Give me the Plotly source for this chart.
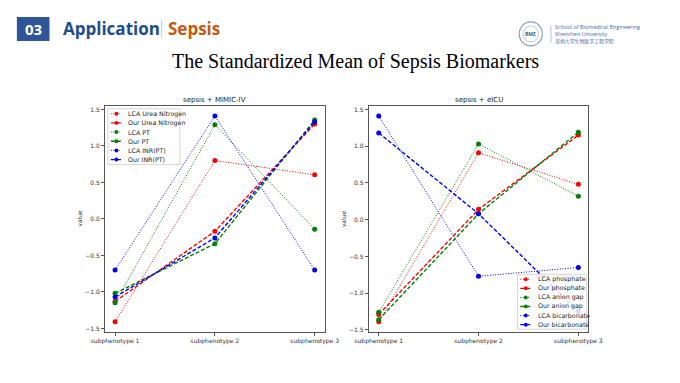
import plotly.graph_objects as go

W, H = 680, 383

categories = ["subphenotype 1", "subphenotype 2", "subphenotype 3"]

# MIMIC-IV panel
mimic_names = ["LCA Urea Nitrogen", "Our Urea Nitrogen", "LCA PT", "Our PT", "LCA INR(PT)", "Our INR(PT)"]
lca_urea = [-1.41, 0.80, 0.605]
our_urea = [-1.13, -0.17, 1.30]
lca_pt = [-1.15, 1.29, -0.14]
our_pt = [-1.02, -0.34, 1.355]
lca_inr = [-0.70, 1.41, -0.70]
our_inr = [-1.07, -0.26, 1.33]

# eICU panel
eicu_names = ["LCA phosphate", "Our phosphate", "LCA anion gap", "Our anion gap", "LCA bicarbonate", "Our bicarbonate"]
lca_phos = [-1.39, 0.91, 0.48]
our_phos = [-1.29, 0.14, 1.15]
lca_anion = [-1.26, 1.03, 0.32]
our_anion = [-1.36, 0.08, 1.19]
lca_bicarb = [1.41, -0.77, -0.65]
our_bicarb = [1.18, 0.08, -1.25]

y_ticks = [-1.5, -1.0, -0.5, 0.0, 0.5, 1.0, 1.5]
y_tick_text = ["\u22121.5", "\u22121.0", "\u22120.5", "0.0", "0.5", "1.0", "1.5"]

colors = ["#ff0000", "#ff0000", "#008000", "#008000", "#0000ff", "#0000ff"]
DOT = "1px,1.6px"
DASH = "4px,2px"
styles = [DOT, DASH, DOT, DASH, DOT, DASH]
widths = [1.0, 1.4, 1.0, 1.4, 1.0, 1.4]

mimic_series = [lca_urea, our_urea, lca_pt, our_pt, lca_inr, our_inr]
eicu_series = [lca_phos, our_phos, lca_anion, our_anion, lca_bicarb, our_bicarb]


def fx(x):
    return x / W


def fy(y):
    return 1 - y / H


FONT = "DejaVu Sans"
fig = go.Figure()

for i, (name, vals) in enumerate(zip(mimic_names, mimic_series)):
    fig.add_trace(go.Scatter(
        x=categories, y=vals, name=name, mode="lines+markers",
        line=dict(color=colors[i], width=widths[i], dash=styles[i]),
        marker=dict(color=colors[i], size=5),
        xaxis="x", yaxis="y", showlegend=False))

for i, (name, vals) in enumerate(zip(eicu_names, eicu_series)):
    fig.add_trace(go.Scatter(
        x=categories, y=vals, name=name, mode="lines+markers",
        line=dict(color=colors[i], width=widths[i], dash=styles[i]),
        marker=dict(color=colors[i], size=5),
        xaxis="x2", yaxis="y2", showlegend=False))


def yrange(series):
    lo = min(min(s) for s in series)
    hi = max(max(s) for s in series)
    pad = 0.05 * (hi - lo)
    return [lo - pad, hi + pad]


ydom = [fy(333), fy(106)]
axis_common = dict(showgrid=False, zeroline=False, showline=True, mirror=True,
                   linecolor="#555555", linewidth=1, ticks="outside", ticklen=3,
                   tickcolor="#555555", tickfont=dict(family=FONT, size=6, color="#333333"))

fig.update_layout(
    width=W, height=H, margin=dict(l=0, r=0, t=0, b=0),
    paper_bgcolor="white", plot_bgcolor="white", showlegend=False,
    xaxis=dict(domain=[fx(95), fx(324)], type="category", range=[-0.1, 2.1],
               anchor="y", **axis_common),
    yaxis=dict(domain=ydom, range=yrange(mimic_series), tickvals=y_ticks,
               ticktext=y_tick_text, anchor="x", **axis_common),
    xaxis2=dict(domain=[fx(370), fx(599)], type="category", range=[-0.1, 2.1],
                anchor="y2", **axis_common),
    yaxis2=dict(domain=ydom, range=yrange(eicu_series), tickvals=y_ticks,
                ticktext=y_tick_text, anchor="x2", **axis_common),
)

shapes = []
annotations = []

# Header
shapes.append(dict(type="rect", xref="paper", yref="paper", x0=fx(3), x1=fx(37),
                   y0=fy(41), y1=fy(17), fillcolor="#2E5597", line=dict(width=0), layer="above"))
annotations.append(dict(text="<b>03</b>", x=fx(20), y=fy(29.5), xref="paper", yref="paper",
                        showarrow=False, font=dict(family="Open Sans", size=15, color="white"),
                        xanchor="center", yanchor="middle"))
annotations.append(dict(text="<b>Application</b>", x=fx(49), y=fy(29), xref="paper", yref="paper",
                        showarrow=False, font=dict(family="Open Sans", size=17, color="#1F4B8F"),
                        xanchor="left", yanchor="middle"))
shapes.append(dict(type="line", xref="paper", yref="paper", x0=fx(154), x1=fx(154),
                   y0=fy(38), y1=fy(20), line=dict(color="#c8c8c8", width=1)))
annotations.append(dict(text="<b>Sepsis</b>", x=fx(159), y=fy(29), xref="paper", yref="paper",
                        showarrow=False, font=dict(family="Open Sans", size=17, color="#C55A11"),
                        xanchor="left", yanchor="middle"))

# Logo
shapes.append(dict(type="circle", xref="paper", yref="paper", x0=fx(527), x1=fx(551),
                   y0=fy(46), y1=fy(22), line=dict(color="#8aa0bd", width=1.2), fillcolor="white"))
shapes.append(dict(type="circle", xref="paper", yref="paper", x0=fx(531), x1=fx(547),
                   y0=fy(42), y1=fy(26), line=dict(color="#a9b9cf", width=0.8)))
annotations.append(dict(text="<b>BME</b>", x=fx(539), y=fy(34), xref="paper", yref="paper",
                        showarrow=False, font=dict(family="Open Sans", size=5, color="#3f5f8f"),
                        xanchor="center", yanchor="middle"))
shapes.append(dict(type="line", xref="paper", yref="paper", x0=fx(560), x1=fx(560),
                   y0=fy(43), y1=fy(26), line=dict(color="#9fb0c8", width=0.8)))
for txt, yy, fam, sz in [("School of Biomedical Engineering", 27.0, "Open Sans", 5.5),
                         ("Shenzhen University", 34.2, "Open Sans", 5.5),
                         ("深圳大学生物医学工程学院", 41.2, "Noto Sans CJK SC", 4.9)]:
    annotations.append(dict(text=txt, x=fx(563), y=fy(yy), xref="paper", yref="paper",
                            showarrow=False, font=dict(family=fam, size=sz, color="#3f6aa6"),
                            xanchor="left", yanchor="middle", borderpad=0))

# Main title
annotations.append(dict(text="The Standardized Mean of Sepsis Biomarkers", x=fx(356), y=fy(62),
                        xref="paper", yref="paper", showarrow=False,
                        font=dict(family="Liberation Serif", size=20, color="black"),
                        xanchor="center", yanchor="middle"))

# Panel titles and y labels
for title, cx, ylab_x in [("sepsis + MIMIC-IV", 209.5, 68), ("sepsis + eICU", 484.5, 344)]:
    annotations.append(dict(text=title, x=fx(cx), y=fy(100), xref="paper", yref="paper",
                            showarrow=False, font=dict(family=FONT, size=7, color="#222222"),
                            xanchor="center", yanchor="middle"))
    annotations.append(dict(text="value", x=fx(ylab_x), y=fy(219), xref="paper", yref="paper",
                            showarrow=False, textangle=-90,
                            font=dict(family=FONT, size=6, color="#333333"),
                            xanchor="center", yanchor="middle"))


# Legends (manual, to match compact matplotlib legend)
def add_legend(names, box_x0, box_x1, box_y0, box_y1, row0, step):
    shapes.append(dict(type="rect", xref="paper", yref="paper", x0=fx(box_x0), x1=fx(box_x1),
                       y0=fy(box_y1), y1=fy(box_y0), fillcolor="rgba(255,255,255,0.85)",
                       line=dict(color="#cccccc", width=0.8), layer="above"))
    for i, nm in enumerate(names):
        yy = row0 + i * step
        shapes.append(dict(type="line", xref="paper", yref="paper", x0=fx(box_x0 + 3),
                           x1=fx(box_x0 + 14), y0=fy(yy), y1=fy(yy), layer="above",
                           line=dict(color=colors[i], width=widths[i], dash=styles[i])))
        shapes.append(dict(type="circle", xref="paper", yref="paper", x0=fx(box_x0 + 6.8),
                           x1=fx(box_x0 + 10.8), y0=fy(yy + 2), y1=fy(yy - 2), layer="above",
                           fillcolor=colors[i], line=dict(width=0)))
        annotations.append(dict(text=nm, x=fx(box_x0 + 19), y=fy(yy), xref="paper", yref="paper",
                                showarrow=False, font=dict(family=FONT, size=6.3, color="#222222"),
                                xanchor="left", yanchor="middle"))


add_legend(mimic_names, 98, 173, 109, 165, 114, 9.2)
add_legend(eicu_names, 525, 597, 275, 330, 280, 9.1)

fig.update_layout(shapes=shapes, annotations=annotations)

fig.write_html("out.html", post_script="document.body.style.margin='0';",
               config={"displayModeBar": False})
